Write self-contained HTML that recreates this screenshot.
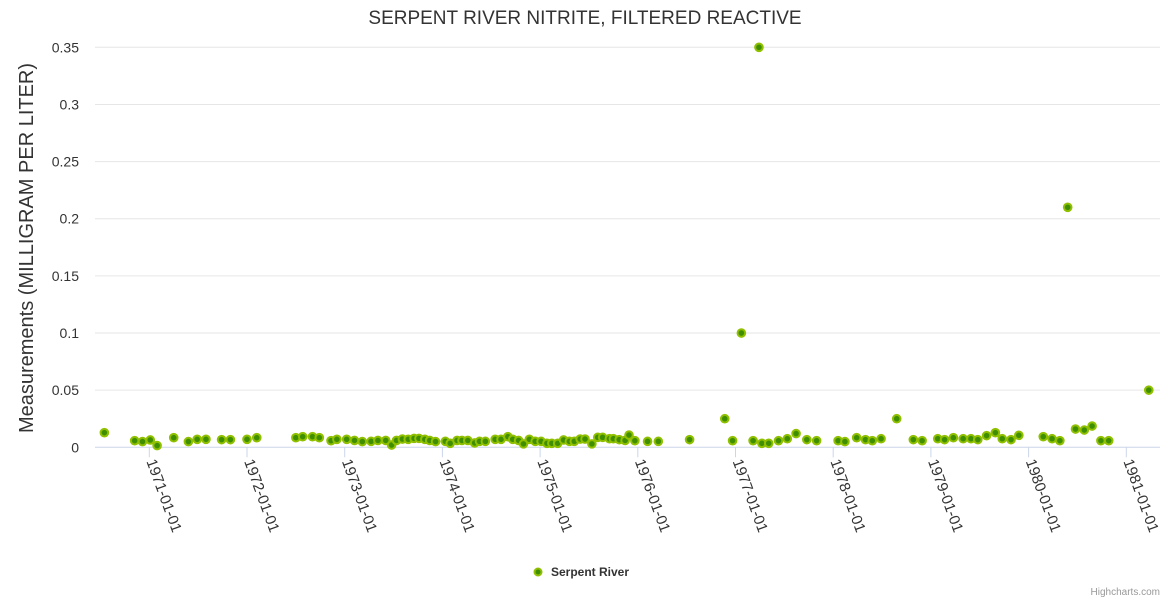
<!DOCTYPE html>
<html><head><meta charset="utf-8"><style>
body{margin:0;background:#fff;}
svg{display:block;font-family:"Liberation Sans",sans-serif;}
</style></head><body>
<svg id="chart" width="1170" height="600">
<text x="585" y="24" text-anchor="middle" font-size="19" fill="#333">SERPENT RIVER NITRITE, FILTERED REACTIVE</text>
<text transform="translate(33,248) rotate(-90)" text-anchor="middle" font-size="20" fill="#333">Measurements (MILLIGRAM PER LITER)</text>
<g id="grid"></g><g id="xaxis"></g><g id="pts"></g>
<g>
<circle cx="538" cy="572" r="3.5" fill="#3f8e00" stroke="#90c000" stroke-width="2"/>
<text x="551" y="576" font-size="12" font-weight="bold" fill="#333">Serpent River</text></g>
<text x="1160" y="595" text-anchor="end" font-size="10" fill="#999">Highcharts.com</text>
</svg>
<script>
const yTicks=[0,0.05,0.1,0.15,0.2,0.25,0.3,0.35];
const yTickLabels=["0","0.05","0.1","0.15","0.2","0.25","0.3","0.35"];
const xTicks=[1971,1972,1973,1974,1975,1976,1977,1978,1979,1980,1981];
const xTickLabels=["1971-01-01","1972-01-01","1973-01-01","1974-01-01","1975-01-01","1976-01-01","1977-01-01","1978-01-01","1979-01-01","1980-01-01","1981-01-01"];
const dates=[1970.54,1970.85,1970.93,1971.01,1971.08,1971.25,1971.40,1971.49,1971.58,1971.74,1971.83,1972.00,1972.10,1972.50,1972.57,1972.67,1972.74,1972.86,1972.92,1973.02,1973.10,1973.18,1973.27,1973.34,1973.42,1973.48,1973.53,1973.59,1973.65,1973.71,1973.76,1973.82,1973.87,1973.93,1974.03,1974.08,1974.15,1974.20,1974.26,1974.33,1974.38,1974.44,1974.54,1974.60,1974.67,1974.72,1974.78,1974.83,1974.89,1974.95,1975.01,1975.07,1975.12,1975.18,1975.24,1975.30,1975.35,1975.41,1975.46,1975.53,1975.59,1975.64,1975.71,1975.75,1975.81,1975.87,1975.91,1975.97,1976.10,1976.21,1976.53,1976.89,1976.97,1977.06,1977.18,1977.24,1977.27,1977.34,1977.44,1977.53,1977.62,1977.73,1977.83,1978.05,1978.12,1978.24,1978.33,1978.40,1978.49,1978.65,1978.82,1978.91,1979.07,1979.14,1979.23,1979.33,1979.41,1979.48,1979.57,1979.66,1979.73,1979.82,1979.90,1980.15,1980.24,1980.32,1980.40,1980.48,1980.57,1980.65,1980.74,1980.82,1981.23];
const values=[0.0128,0.0058,0.005,0.0064,0.0015,0.0084,0.005,0.007,0.007,0.0067,0.0067,0.007,0.0084,0.0084,0.0093,0.0093,0.0084,0.0058,0.007,0.007,0.006,0.005,0.0052,0.006,0.006,0.002,0.006,0.0072,0.007,0.0078,0.0078,0.007,0.006,0.005,0.0052,0.0035,0.006,0.006,0.006,0.0038,0.0052,0.0052,0.007,0.007,0.0093,0.007,0.006,0.003,0.007,0.0052,0.0052,0.0035,0.0035,0.0035,0.0064,0.0052,0.0052,0.0072,0.0072,0.003,0.0087,0.0087,0.0075,0.0075,0.0067,0.006,0.0107,0.0058,0.0052,0.0052,0.0067,0.025,0.0058,0.1,0.0058,0.35,0.0035,0.0035,0.0058,0.0075,0.012,0.0067,0.0058,0.0058,0.005,0.0084,0.0067,0.0058,0.0075,0.025,0.0067,0.0058,0.0075,0.0067,0.0084,0.0075,0.0075,0.0067,0.0102,0.0128,0.0075,0.0067,0.0105,0.0093,0.0075,0.0058,0.21,0.016,0.0151,0.0186,0.0058,0.0058,0.05];
const NS="http://www.w3.org/2000/svg";
const L=95,R=1160,Y0=447.3,YT=47.3;
function xs(t){return 149.3+(t-1971)*97.7;}
function ys(v){return Y0-(v/0.35)*(Y0-YT);}
function mk(tag,at,p){const e=document.createElementNS(NS,tag);for(const k in at)e.setAttribute(k,at[k]);p.appendChild(e);return e;}
const g=document.getElementById('grid'),xa=document.getElementById('xaxis'),pg=document.getElementById('pts');
yTicks.forEach((v,i)=>{
 const y=ys(v);
 if(i>0){const ln=mk('line',{x1:L,x2:R,y1:y,y2:y,stroke:'#e6e6e6','stroke-width':1},g);
 
 }
 const t=mk('text',{x:79,y:y+5,'text-anchor':'end','font-size':14,fill:'#333'},g);t.textContent=yTickLabels[i];
 
 
});
const ax=mk('line',{x1:L,x2:R,y1:Y0,y2:Y0,stroke:'#ccd6eb','stroke-width':1},xa);


xTicks.forEach((t,i)=>{
 const x=xs(t);
 const tk=mk('line',{x1:x,x2:x,y1:Y0,y2:Y0+10,stroke:'#ccd6eb','stroke-width':1},xa);
 
 
 const lb=mk('text',{transform:`translate(${x-3},${Y0+14}) rotate(70)`,'font-size':15,fill:'#333'},xa);
 lb.textContent=xTickLabels[i];
 
 
});
dates.forEach((d,i)=>{
 const c=mk('circle',{cx:xs(d),cy:ys(values[i]),r:3.8,fill:'#3f8e00',stroke:'#90c000','stroke-width':2},pg);
 
 
});
</script>
</body></html>
